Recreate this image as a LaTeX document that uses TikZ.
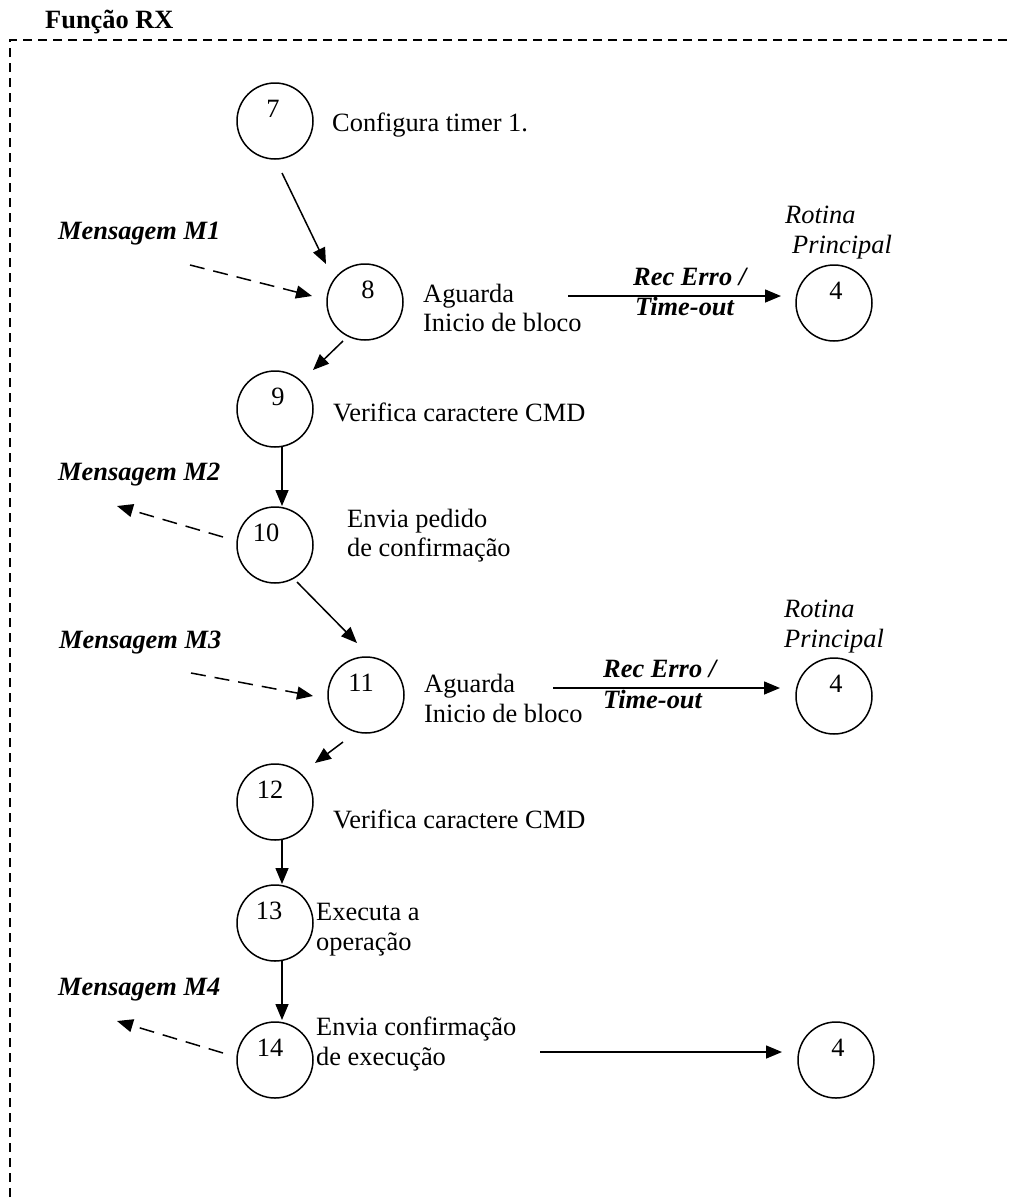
\documentclass[tikz,border=0pt]{standalone}
\usepackage{fontspec}
\setmainfont{Liberation Serif}
\usetikzlibrary{arrows.meta,calc}
\begin{document}
\begin{tikzpicture}[x=1pt,y=-1pt,
  font=\fontsize{26.4}{30}\selectfont,
  state/.style={circle,draw,line width=1.5pt,minimum size=76pt,inner sep=0pt},
  flow/.style={line width=1.5pt,-{Triangle[length=16pt,width=13pt]}},
  msg/.style={flow,dash pattern=on 15pt off 9pt},
  txt/.style={anchor=base west,inner sep=0pt},
  bi/.style={txt,font=\fontsize{26.4}{30}\selectfont\bfseries\itshape},
  it/.style={txt,font=\fontsize{26.4}{30}\selectfont\itshape},
  frame/.style={line width=1.3pt,dash pattern=on 9pt off 6pt}]
\useasboundingbox (0,0) rectangle (1012,1200);

% frame of the function
\node[txt,font=\fontsize{26.4}{30}\selectfont\bfseries] (title) at (45,28) {Função RX};
\coordinate (fbl) at (10,1197);
\coordinate (ftl) at (10,40);
\coordinate (ftr) at (1012,40);
\draw[frame] (fbl) -- (ftl) -- (ftr);

% states
\node[state,label={[xshift=-2pt,yshift=12pt]center:7}] (n7) at (275,121) {};
\node[state,label={[xshift=3pt,yshift=12pt]center:8}] (n8) at (365,302) {};
\node[state,label={[xshift=3pt,yshift=12pt]center:9}] (n9) at (275,409) {};
\node[state,label={[xshift=-9pt,yshift=12pt]center:10}] (n10) at (275,545) {};
\node[state,label={[xshift=-5pt,yshift=12pt]center:11}] (n11) at (366,695) {};
\node[state,label={[xshift=-5pt,yshift=12pt]center:12}] (n12) at (275,802) {};
\node[state,label={[xshift=-6pt,yshift=12pt]center:13}] (n13) at (275,923) {};
\node[state,label={[xshift=-5pt,yshift=12pt]center:14}] (n14) at (275,1060) {};
\node[state,label={[xshift=2pt,yshift=12pt]center:4}] (r4a) at (834,303) {};
\node[state,label={[xshift=2pt,yshift=12pt]center:4}] (r4b) at (834,696) {};
\node[state,label={[xshift=2pt,yshift=12pt]center:4}] (r4c) at (836,1060) {};

% descriptions
\node[txt] (t7) at (332,131) {Configura timer 1.};
\node[txt] (t8a) at (423,302) {Aguarda};
\node[txt] (t8b) at (423,331) {Inicio de bloco};
\node[txt] (t9) at (333,421) {Verifica caractere CMD};
\node[txt] (t10a) at (347,527) {Envia pedido};
\node[txt] (t10b) at (347,556) {de confirmação};
\node[txt] (t11a) at (424,692) {Aguarda};
\node[txt] (t11b) at (424,722) {Inicio de bloco};
\node[txt] (t12) at (333,828) {Verifica caractere CMD};
\node[txt] (t13a) at (316,920) {Executa a};
\node[txt] (t13b) at (316,950) {operação};
\node[txt] (t14a) at (316,1035) {Envia confirmação};
\node[txt] (t14b) at (316,1065) {de execução};

% messages
\node[bi] (m1) at (58,239) {Mensagem M1};
\node[bi] (m2) at (58,480) {Mensagem M2};
\node[bi] (m3) at (59,648) {Mensagem M3};
\node[bi] (m4) at (58,995) {Mensagem M4};

% error exits
\node[bi] (r1a) at (633,285) {Rec Erro /};
\node[bi] (r1b) at (635,315) {Time-out};
\node[bi] (r2a) at (603,677) {Rec Erro /};
\node[bi] (r2b) at (603,708) {Time-out};
\node[it] (p1a) at (785,223) {Rotina};
\node[it] (p1b) at (792,253) {Principal};
\node[it] (p2a) at (784,617) {Rotina};
\node[it] (p2b) at (784,647) {Principal};

% transitions
\draw[flow] ($(n7)+(7,52)$) -- ($(n8)+(-39,-38)$);
\draw[flow] ($(n8)+(-22,39)$) -- ($(n9)+(38,-39)$);
\draw[flow] ($(n9)+(7,38)$) -- ($(n10)+(7,-39)$);
\draw[flow] ($(n10)+(22,37)$) -- ($(n11)+(-9,-52)$);
\draw[flow] ($(n11)+(-23,47)$) -- ($(n12)+(40,-39)$);
\draw[flow] ($(n12)+(7,38)$) -- ($(n13)+(7,-39)$);
\draw[flow] ($(n13)+(7,38)$) -- ($(n14)+(7,-40)$);
\draw[flow] ($(n8)+(203,-6)$) -- ($(r4a)+(-53,-7)$);
\draw[flow] ($(n11)+(187,-7)$) -- ($(r4b)+(-54,-8)$);
\draw[flow] ($(n14)+(265,-8)$) -- ($(r4c)+(-54,-8)$);

% message flows
\draw[msg] ($(m1.base west)+(132,26)$) -- ($(n8)+(-53,-6)$);
\draw[msg] ($(n10)+(-52,-8)$) -- ($(m2.base west)+(59,26)$);
\draw[msg] ($(m3.base west)+(132,25)$) -- ($(n11)+(-53,1)$);
\draw[msg] ($(n14)+(-52,-7)$) -- ($(m4.base west)+(59,26)$);
\end{tikzpicture}
\end{document}
